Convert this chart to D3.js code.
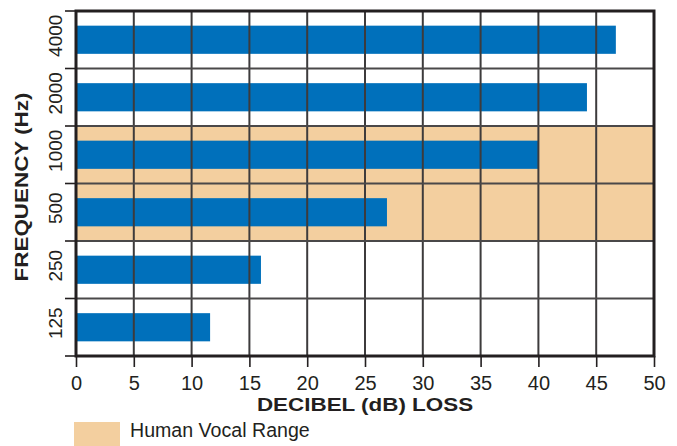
<!DOCTYPE html>
<html>
<head>
<meta charset="utf-8">
<script src="https://cdn.jsdelivr.net/npm/d3@7/dist/d3.min.js"></script>
<style>
  html, body { margin: 0; padding: 0; background: #fff; }
  svg { display: block; font-family: "Liberation Sans", Arial, Helvetica, sans-serif; }
</style>
</head>
<body>
<svg id="chart" width="677" height="446"></svg>
<script>
// Hearing loss by frequency
const frequencies = ["4000", "2000", "1000", "500", "250", "125"];
const dbLoss = [46.7, 44.2, 40, 26.9, 16, 11.6];
const vocalRange = ["1000", "500"];
const xTicks = [0, 5, 10, 15, 20, 25, 30, 35, 40, 45, 50];

const svg = d3.select("#chart");
const margin = { left: 76, right: 23, top: 11, bottom: 90 };
const W = 677, H = 446;
const x0 = margin.left, x1 = W - margin.right, y0 = margin.top, y1 = H - margin.bottom;

const x = d3.scaleLinear().domain([0, 50]).range([x0, x1]);
const y = d3.scaleBand().domain(frequencies).range([y0, y1]);

const ink = "#231f20";
const bandColor = "#f3cf9f";
const barColor = "#0070bb";

// vocal range shading
svg.append("g").selectAll("rect").data(vocalRange).join("rect")
  .attr("x", x0).attr("width", x1 - x0)
  .attr("y", d => y(d)).attr("height", y.bandwidth())
  .attr("fill", bandColor);

// bars
const barH = y.bandwidth() * 0.49;
svg.append("g").selectAll("rect").data(frequencies).join("rect")
  .attr("x", x(0))
  .attr("y", d => y(d) + (y.bandwidth() - barH) / 2)
  .attr("width", (d, i) => x(dbLoss[i]) - x(0))
  .attr("height", barH)
  .attr("fill", barColor);

// grid
const bounds = frequencies.map(d => y(d)).concat([y1]);
svg.append("g").selectAll("line").data(xTicks.slice(1, -1)).join("line")
  .attr("x1", d => x(d)).attr("x2", d => x(d))
  .attr("y1", y0).attr("y2", y1)
  .attr("stroke", "#3d3b3c").attr("stroke-width", 2);
svg.append("g").selectAll("line").data(bounds.slice(1, -1)).join("line")
  .attr("x1", x0).attr("x2", x1)
  .attr("y1", d => d).attr("y2", d => d)
  .attr("stroke", "#4a4849").attr("stroke-width", 2);

// frame
svg.append("rect")
  .attr("x", x0).attr("y", y0).attr("width", x1 - x0).attr("height", y1 - y0)
  .attr("fill", "none").attr("stroke", ink).attr("stroke-width", 3);

// x axis
const xAxis = d3.axisBottom(x).tickValues(xTicks).tickSize(11).tickPadding(9).tickFormat(d3.format("d"));
const gx = svg.append("g").attr("transform", `translate(0,${y1})`).call(xAxis);
gx.select(".domain").remove();
gx.selectAll(".tick line").attr("stroke", ink).attr("stroke-width", 1.6);
gx.selectAll(".tick text").attr("fill", ink).attr("font-size", 20)
  .attr("font-family", "Liberation Sans, Arial, sans-serif");

// y axis: ticks at band boundaries, labels in bands
svg.append("g").selectAll("line").data(bounds).join("line")
  .attr("x1", x0 - 11).attr("x2", x0)
  .attr("y1", d => d).attr("y2", d => d)
  .attr("stroke", ink).attr("stroke-width", 1.6);
svg.append("g").selectAll("text").data(frequencies).join("text")
  .attr("transform", d => `translate(62,${y(d) + y.bandwidth() / 2 - 4}) rotate(-90)`)
  .attr("text-anchor", "middle")
  .attr("fill", ink).attr("font-size", 19)
  .text(d => d);

// axis titles (wide bold face)
svg.append("text")
  .attr("transform", `translate(365,411) scale(1.18,1)`)
  .attr("text-anchor", "middle")
  .attr("font-weight", "bold").attr("font-size", 19).attr("fill", ink)
  .text("DECIBEL (dB) LOSS");
svg.append("text")
  .attr("transform", `translate(28,187) rotate(-90) scale(1.18,1)`)
  .attr("text-anchor", "middle")
  .attr("font-weight", "bold").attr("font-size", 19).attr("fill", ink)
  .text("FREQUENCY (Hz)");

// legend
svg.append("rect").attr("x", 74).attr("y", 422).attr("width", 46).attr("height", 24).attr("fill", bandColor);
svg.append("text").attr("x", 130).attr("y", 437).attr("font-size", 19.6).attr("fill", ink)
  .text("Human Vocal Range");
</script>
</body>
</html>
